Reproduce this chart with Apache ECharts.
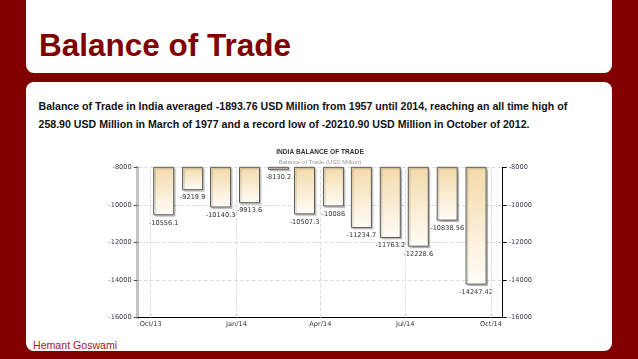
<!DOCTYPE html>
<html><head><meta charset="utf-8">
<script src="https://cdn.jsdelivr.net/npm/echarts@6/dist/echarts.min.js"></script>
<style>
html,body{margin:0;padding:0;}
body{width:638px;height:359px;background:#800000;position:relative;overflow:hidden;font-family:"Liberation Sans",Arial,sans-serif;}
.panel{position:absolute;left:26px;width:586px;background:#fff;border-radius:8px;}
#p1{top:-10px;height:82.7px;}
#p2{top:81.7px;height:269.5px;}
.txt{position:absolute;margin:0;white-space:nowrap;}
#title{left:39px;top:29.8px;font-size:31.5px;line-height:31.5px;font-weight:bold;color:#800000;}
.para{left:38.5px;font-size:10.6px;line-height:10.6px;font-weight:bold;color:#111;}
#l1{top:101px;}
#l2{top:119px;}
#foot{left:33px;top:339.5px;font-size:10.6px;line-height:10.6px;color:#b5121b;}
#chart{position:absolute;left:0;top:0;width:638px;height:359px;}
</style></head>
<body>
<div class="panel" id="p1"></div>
<div class="panel" id="p2"></div>
<div class="txt" id="title">Balance of Trade</div>
<div class="txt para" id="l1">Balance of Trade in India averaged -1893.76 USD Million from 1957 until 2014, reaching an all time high of</div>
<div class="txt para" id="l2">258.90 USD Million in March of 1977 and a record low of -20210.90 USD Million in October of 2012.</div>
<div class="txt" id="foot">Hemant Goswami</div>
<div id="chart"></div>
<script>
const months = ['2013-10','2013-11','2013-12','2014-01','2014-02','2014-03','2014-04','2014-05','2014-06','2014-07','2014-08','2014-09'];
const balance = [-10556.1,-9219.9,-10140.3,-9913.6,-8130.2,-10507.3,-10086,-11234.7,-11763.2,-12228.6,-10838.56,-14247.42];
const tickMonths = ['2013-10','2014-01','2014-04','2014-07','2014-10'];
const tickLabels = ['Oct/13','Jan/14','Apr/14','Jul/14','Oct/14'];
const yMin = -16000, yMax = -8000, yStep = 2000;

const DAY = 86400000;
function toTs(ym, day){ const p = ym.split('-'); return Date.UTC(+p[0], +p[1]-1, day); }
const tickTs = tickMonths.map(m => toTs(m,1));
const xMin = tickTs[0] - 13.9*DAY;
const xMax = tickTs[tickTs.length-1] + 12.55*DAY;

const chart = echarts.init(document.getElementById('chart'), null, {renderer:'canvas'});
const yCommon = {
  type:'value', min:yMin, max:yMax, interval:yStep,
  axisLabel:{fontFamily:'DejaVu Sans', fontSize:6.6, color:'#3a3a48', formatter:function(v){ return String(v); }}
};
chart.setOption({
  animation:false,
  title:{
    text:'INDIA BALANCE OF TRADE', subtext:'Balance of Trade (USD Million)',
    left:320, top:148, textAlign:'center', itemGap:3, padding:0,
    textStyle:{fontFamily:'Liberation Sans', fontSize:6.6, fontWeight:'bold', color:'#333', lineHeight:8},
    subtextStyle:{fontFamily:'Liberation Sans', fontSize:6, color:'#999', lineHeight:7}
  },
  grid:{left:137.7, right:135.3, top:167.3, bottom:41.5, outerBoundsMode:'none'},
  xAxis:{
    type:'value', min:xMin, max:xMax,
    axisLine:{lineStyle:{color:'#000', width:1}},
    axisTick:{show:true, inside:true, length:3, lineStyle:{color:'#555'}, customValues:tickTs},
    axisLabel:{customValues:tickTs, fontFamily:'DejaVu Sans', fontSize:6.6, color:'#333', margin:3,
      showMinLabel:true, showMaxLabel:true,
      formatter:function(v){ const i = tickTs.indexOf(v); return i>=0 ? tickLabels[i] : ''; }},
    splitLine:{show:false}
  },
  yAxis:[
    Object.assign({}, yCommon, {position:'left',
      axisLine:{show:true, lineStyle:{color:'#c4c4c4', width:3}},
      axisTick:{show:true, length:4, lineStyle:{color:'#555'}},
      axisLabel:Object.assign({}, yCommon.axisLabel, {margin:6}),
      splitLine:{show:true, lineStyle:{type:'dashed', color:'#dcdcdc', width:1}}}),
    Object.assign({}, yCommon, {position:'right',
      axisLine:{show:true, lineStyle:{color:'#000', width:1}},
      axisTick:{show:true, length:4, lineStyle:{color:'#000'}},
      axisLabel:Object.assign({}, yCommon.axisLabel, {margin:6}),
      splitLine:{show:false}})
  ],
  series:[{
    type:'bar', xAxisIndex:0, yAxisIndex:0, clip:true,
    data: months.map((m,i) => [toTs(m,15), balance[i]]),
    barWidth:21,
    itemStyle:{
      color:new echarts.graphic.LinearGradient(0,0,0,1,[{offset:0,color:'#f3daa9'},{offset:1,color:'#fffdf8'}]),
      borderColor:'#5a5a5a', borderWidth:1,
      shadowColor:'rgba(0,0,0,0.2)', shadowOffsetX:1.5, shadowOffsetY:1.5, shadowBlur:1
    },
    label:{show:true, position:'bottom', distance:4, fontFamily:'DejaVu Sans', fontSize:6.6, color:'#333',
      formatter:function(p){ return String(p.value[1]); }},
    markLine:{
      silent:true, symbol:'none', label:{show:false},
      lineStyle:{type:'dashed', color:'#dcdcdc', width:1},
      data: tickTs.map(t => ({xAxis:t}))
    }
  }]
});
</script>
</body></html>
